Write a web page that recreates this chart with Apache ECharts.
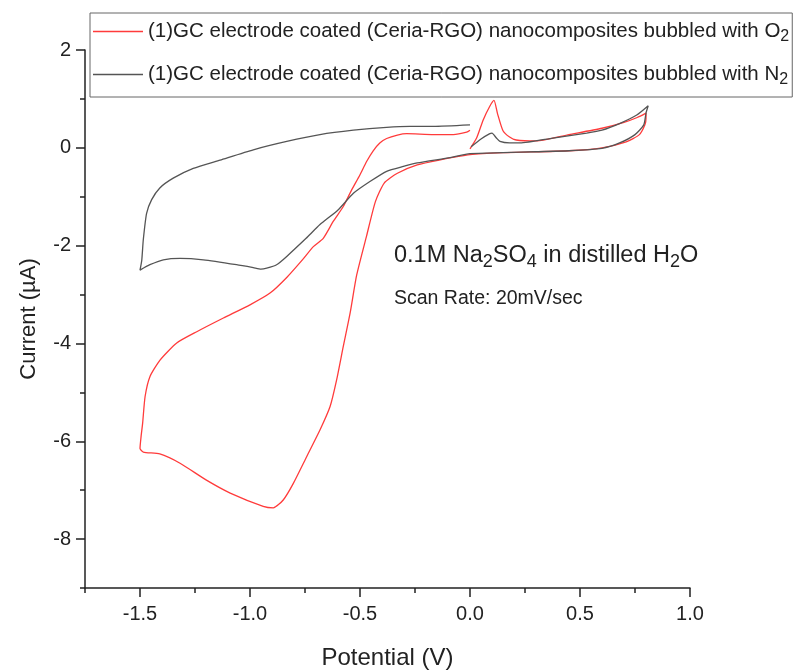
<!DOCTYPE html>
<html>
<head>
<meta charset="utf-8">
<script src="https://cdn.jsdelivr.net/npm/echarts@6/dist/echarts.min.js"></script>
<style>
  html, body { margin: 0; padding: 0; background: #fff; }
  #chart { width: 795px; height: 671px; }
</style>
</head>
<body>
<div id="chart"></div>
<script>
// Cyclic voltammograms: potential (V) vs current (µA), scan starts at 0.0 V,
// sweeps to +0.8 V, back to -1.5 V and returns to 0.0 V.
const seriesNames = [
  '(1)GC electrode coated (Ceria-RGO) nanocomposites bubbled with O2',
  '(1)GC electrode coated (Ceria-RGO) nanocomposites bubbled with N2'
];

const o2Curve = [
  [0.0, -0.02], [0.03, 0.2], [0.06, 0.57], [0.09, 0.85], [0.109, 0.97], [0.125, 0.7],
  [0.15, 0.35], [0.18, 0.22], [0.21, 0.16], [0.3, 0.14], [0.45, 0.27], [0.6, 0.40],
  [0.7, 0.52], [0.76, 0.62], [0.80, 0.71],
  [0.80, 0.60], [0.795, 0.47], [0.77, 0.27], [0.71, 0.12], [0.6, 0.0], [0.45, -0.06],
  [0.15, -0.1], [0.0, -0.14], [-0.14, -0.25], [-0.24, -0.35], [-0.33, -0.52],
  [-0.39, -0.72], [-0.43, -1.1], [-0.47, -1.8], [-0.515, -2.6], [-0.545, -3.38],
  [-0.576, -4.06], [-0.606, -4.74], [-0.636, -5.29], [-0.682, -5.77], [-0.742, -6.31],
  [-0.803, -6.86], [-0.849, -7.2], [-0.894, -7.36], [-0.94, -7.33], [-1.09, -7.06],
  [-1.2, -6.79], [-1.318, -6.45], [-1.41, -6.26], [-1.485, -6.22], [-1.5, -6.15],
  [-1.495, -5.9], [-1.488, -5.63], [-1.477, -5.09], [-1.455, -4.68], [-1.409, -4.34],
  [-1.333, -3.99], [-1.242, -3.76], [-1.121, -3.48], [-1.0, -3.21], [-0.909, -2.97],
  [-0.833, -2.65], [-0.76, -2.28], [-0.712, -2.02], [-0.667, -1.85], [-0.621, -1.5],
  [-0.576, -1.2], [-0.54, -0.88], [-0.5, -0.55], [-0.47, -0.28], [-0.44, -0.06],
  [-0.41, 0.1], [-0.379, 0.19], [-0.33, 0.26], [-0.288, 0.29], [-0.167, 0.27],
  [-0.076, 0.27], [-0.015, 0.32], [0.0, 0.36]
];

const n2Curve = [
  [0.005, 0.02], [0.05, 0.18], [0.09, 0.29], [0.1, 0.30], [0.12, 0.2], [0.136, 0.13],
  [0.18, 0.1], [0.227, 0.1], [0.377, 0.2], [0.53, 0.3], [0.6, 0.36], [0.682, 0.5],
  [0.758, 0.67], [0.81, 0.86],
  [0.80, 0.71], [0.79, 0.47], [0.75, 0.27], [0.68, 0.10], [0.6, -0.01], [0.45, -0.06],
  [0.3, -0.08], [0.15, -0.10], [0.0, -0.12], [-0.09, -0.2], [-0.24, -0.31],
  [-0.303, -0.38], [-0.379, -0.48], [-0.455, -0.69], [-0.53, -0.93], [-0.6, -1.27],
  [-0.682, -1.57], [-0.745, -1.85], [-0.833, -2.22], [-0.879, -2.39], [-0.924, -2.46],
  [-0.95, -2.48], [-0.985, -2.45], [-1.061, -2.39], [-1.212, -2.29], [-1.318, -2.26],
  [-1.394, -2.29], [-1.455, -2.39], [-1.5, -2.5],
  [-1.492, -2.3], [-1.485, -1.88], [-1.47, -1.34], [-1.447, -1.06], [-1.41, -0.82],
  [-1.349, -0.62], [-1.258, -0.42], [-1.136, -0.25], [-0.985, -0.04], [-0.833, 0.13],
  [-0.682, 0.27], [-0.53, 0.36], [-0.379, 0.42], [-0.273, 0.44], [-0.167, 0.44],
  [0.0, 0.47]
];

const xMajorTicks = [-1.5, -1.0, -0.5, 0.0, 0.5, 1.0];
const xMinorTicks = [-1.75, -1.25, -0.75, -0.25, 0.25, 0.75];
const yMajorTicks = [-8, -6, -4, -2, 0, 2];
const yMinorTicks = [-9, -7, -5, -3, -1, 1];

const noteLines = [
  '0.1M Na{s|2}SO{s|4} in distilled H{s|2}O',
  'Scan Rate: 20mV/sec'
];

const FONT = '"Liberation Sans", Arial, sans-serif';
const INK = '#222';
const subStyle = { fontSize: 16, fontFamily: FONT, color: INK, padding: [11, 0, 0, 0] };
const noteSub = { fontSize: 18, fontFamily: FONT, color: INK, padding: [12, 0, 0, 0] };

const chart = echarts.init(document.getElementById('chart'), null, { renderer: 'canvas' });

const axisLineStyle = { onZero: false, lineStyle: { color: INK, width: 1.5 } };

chart.setOption({
  animation: false,
  backgroundColor: '#fff',
  grid: {
    left: 85, right: 105, top: 50, bottom: 83,
    containLabel: false, outerBoundsMode: 'none'
  },
  legend: {
    left: 90, top: 13,
    orient: 'vertical',
    padding: [8, 3, 9, 3],
    itemGap: 19,
    itemWidth: 50,
    itemHeight: 1.5,
    icon: 'rect',
    borderColor: '#666',
    borderWidth: 1,
    data: seriesNames,
    formatter: name => name.replace(/(O|N)2$/, '$1{s|2}'),
    textStyle: {
      fontFamily: FONT, fontSize: 20.5, color: INK,
      rich: { s: subStyle }
    }
  },
  xAxis: [
    {
      type: 'value', min: -1.75, max: 1.0, position: 'bottom',
      axisLine: axisLineStyle,
      axisTick: { customValues: xMajorTicks, length: 9, lineStyle: { color: INK, width: 1.5 } },
      axisLabel: {
        customValues: xMajorTicks, margin: 16,
        formatter: v => v.toFixed(1),
        fontFamily: FONT, fontSize: 20, color: INK
      },
      splitLine: { show: false },
      name: 'Potential (V)', nameLocation: 'middle', nameGap: 58,
      nameTextStyle: { fontFamily: FONT, fontSize: 24, color: INK }
    },
    {
      type: 'value', min: -1.75, max: 1.0, position: 'bottom',
      axisLine: { show: false, onZero: false },
      axisTick: { customValues: xMinorTicks, length: 5, lineStyle: { color: INK, width: 1.5 } },
      axisLabel: { show: false },
      splitLine: { show: false }
    }
  ],
  yAxis: [
    {
      type: 'value', min: -9, max: 2, position: 'left',
      axisLine: axisLineStyle,
      axisTick: { customValues: yMajorTicks, length: 9, lineStyle: { color: INK, width: 1.5 } },
      axisLabel: {
        customValues: yMajorTicks, margin: 14,
        fontFamily: FONT, fontSize: 20, color: INK
      },
      splitLine: { show: false },
      name: 'Current (µA)', nameLocation: 'middle', nameGap: 45, nameRotate: 90,
      nameTextStyle: { fontFamily: FONT, fontSize: 22, color: INK }
    },
    {
      type: 'value', min: -9, max: 2, position: 'left',
      axisLine: { show: false, onZero: false },
      axisTick: { customValues: yMinorTicks, length: 5, lineStyle: { color: INK, width: 1.5 } },
      axisLabel: { show: false },
      splitLine: { show: false }
    }
  ],
  series: [
    {
      name: seriesNames[0], type: 'line', data: o2Curve,
      xAxisIndex: 0, yAxisIndex: 0,
      symbol: 'none', smooth: 0.2,
      lineStyle: { color: '#ff3b3b', width: 1.3 },
      itemStyle: { color: '#ff3b3b' }
    },
    {
      name: seriesNames[1], type: 'line', data: n2Curve,
      xAxisIndex: 0, yAxisIndex: 0,
      symbol: 'none', smooth: 0.2,
      lineStyle: { color: '#555', width: 1.3 },
      itemStyle: { color: '#555' }
    }
  ],
  graphic: noteLines.map((txt, i) => ({
    type: 'text',
    left: 394,
    top: i === 0 ? 244 : 289,
    style: {
      text: txt,
      fontFamily: FONT, fontSize: i === 0 ? 23.5 : 19.5, fill: INK,
      rich: { s: noteSub }
    }
  }))
});
</script>
</body>
</html>
